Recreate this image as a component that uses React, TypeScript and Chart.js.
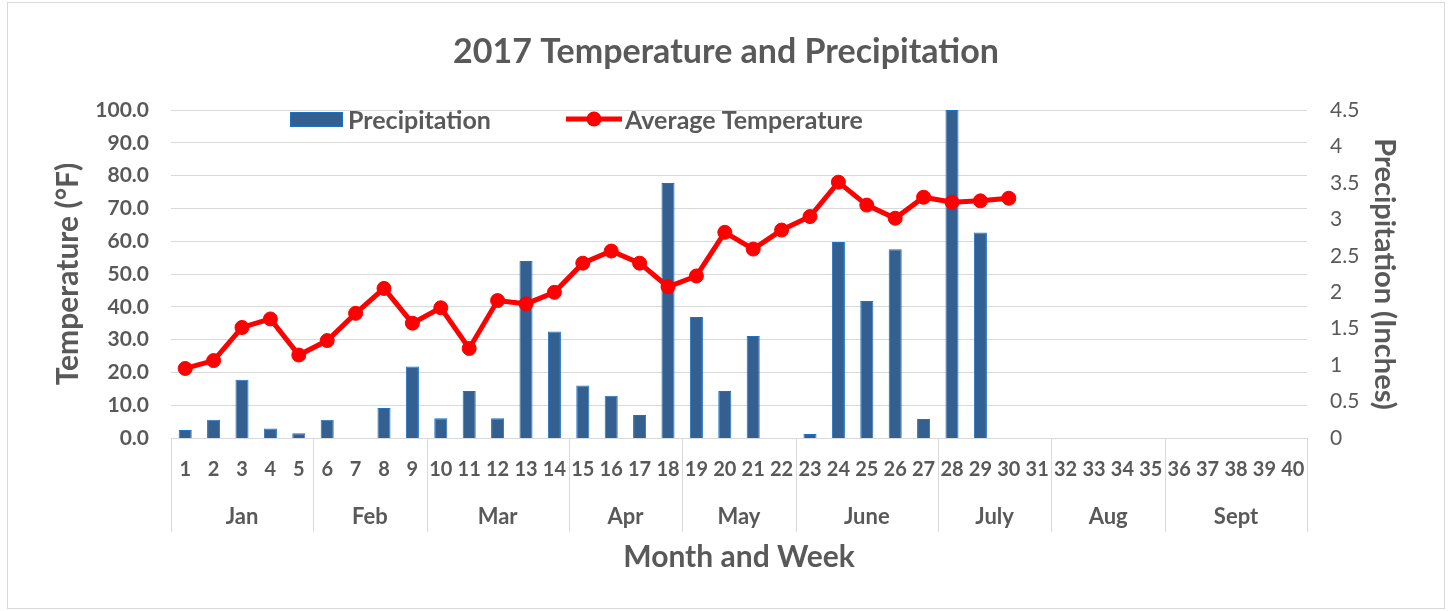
import React, { useEffect, useRef } from 'react';
import { Chart, registerables } from 'chart.js';

Chart.register(...registerables);

const weekLabels = [
  '1', '2', '3', '4', '5', '6', '7', '8', '9', '10',
  '11', '12', '13', '14', '15', '16', '17', '18', '19', '20',
  '21', '22', '23', '24', '25', '26', '27', '28', '29', '30',
  '31', '32', '33', '34', '35', '36', '37', '38', '39', '40',
];

const months = ['Jan', 'Feb', 'Mar', 'Apr', 'May', 'June', 'July', 'Aug', 'Sept'];
const monthWeekCounts = [5, 4, 5, 4, 4, 5, 4, 4, 5];

const precipitation = [
  0.11, 0.25, 0.8, 0.13, 0.065, 0.25, 0, 0.41, 0.98, 0.27,
  0.645, 0.27, 2.43, 1.46, 0.72, 0.58, 0.315, 3.5, 1.66, 0.645,
  1.4, 0, 0.055, 2.69, 1.88, 2.59, 0.26, 4.5, 2.82, null,
  null, null, null, null, null, null, null, null, null, null,
];

const avgTemperature = [
  21.2, 23.6, 33.7, 36.3, 25.3, 29.7, 38.0, 45.6, 35.0, 39.7,
  27.3, 41.9, 40.9, 44.4, 53.3, 57.0, 53.3, 46.1, 49.4, 62.7,
  57.6, 63.4, 67.5, 78.0, 71.0, 67.0, 73.4, 71.9, 72.3, 73.1,
  null, null, null, null, null, null, null, null, null, null,
];

const TEXT = '#595959';
const GRID = '#d9d9d9';
const BAR_FILL = '#335F91';
const BAR_EDGE = '#1C73C4';
const RED = '#FF0000';
const FONT = 'Lato';

const decorPlugin = {
  id: 'decor',
  beforeDraw(chart: any) {
    const { ctx, width, height } = chart;
    ctx.save();
    ctx.fillStyle = '#ffffff';
    ctx.fillRect(0, 0, width, height);
    ctx.strokeStyle = GRID;
    ctx.lineWidth = 1;
    ctx.strokeRect(7.5, 2.5, 1437, 606);
    ctx.restore();
  },
  afterDraw(chart: any) {
    const { ctx } = chart;
    const xs = chart.scales.x;
    const area = chart.chartArea;
    ctx.save();
    // title
    ctx.fillStyle = TEXT;
    ctx.font = `bold 34px ${FONT}`;
    ctx.textAlign = 'center';
    ctx.textBaseline = 'middle';
    ctx.fillText('2017 Temperature and Precipitation', 726, 52);

    // month separators and labels
    ctx.strokeStyle = GRID;
    ctx.lineWidth = 1;
    let start = 0;
    const bounds: number[] = [Math.round(xs.getPixelForValue(-0.5)) + 0.5];
    for (let i = 0; i < months.length; i++) {
      const end = start + monthWeekCounts[i];
      const x0 = xs.getPixelForValue(start - 0.5);
      const x1 = xs.getPixelForValue(end - 0.5);
      bounds.push(Math.round(x1) + 0.5);
      ctx.fillStyle = TEXT;
      ctx.font = `bold 22px ${FONT}`;
      ctx.textAlign = 'center';
      ctx.textBaseline = 'middle';
      ctx.fillText(months[i], (x0 + x1) / 2, 517);
      start = end;
    }
    ctx.beginPath();
    for (const bx of bounds) {
      ctx.moveTo(bx, area.bottom);
      ctx.lineTo(bx, 532);
    }
    ctx.stroke();

    // legend
    ctx.fillStyle = BAR_FILL;
    ctx.fillRect(290, 112, 53, 15);
    ctx.strokeStyle = BAR_EDGE;
    ctx.lineWidth = 1;
    ctx.strokeRect(290.5, 112.5, 52, 14);
    ctx.fillStyle = TEXT;
    ctx.font = `bold 25px ${FONT}`;
    ctx.textAlign = 'left';
    ctx.textBaseline = 'middle';
    ctx.fillText('Precipitation', 348, 121);

    ctx.strokeStyle = RED;
    ctx.lineWidth = 5;
    ctx.beginPath();
    ctx.moveTo(566, 119);
    ctx.lineTo(622, 119);
    ctx.stroke();
    ctx.fillStyle = RED;
    ctx.beginPath();
    ctx.arc(594, 119, 7.5, 0, Math.PI * 2);
    ctx.fill();
    ctx.fillStyle = TEXT;
    ctx.fillText('Average Temperature', 625, 121);
    ctx.restore();
  },
};

export default function App() {
  const ref = useRef<HTMLCanvasElement>(null);

  useEffect(() => {
    if (!ref.current) return;
    const chart = new Chart(ref.current, {
      type: 'bar',
      data: {
        labels: weekLabels,
        datasets: [
          {
            type: 'line',
            label: 'Average Temperature',
            data: avgTemperature,
            yAxisID: 'y',
            borderColor: RED,
            backgroundColor: RED,
            borderWidth: 5,
            pointRadius: 7,
            pointBackgroundColor: RED,
            pointBorderColor: RED,
            pointBorderWidth: 1,
            tension: 0,
            order: 0,
          } as any,
          {
            type: 'bar',
            label: 'Precipitation',
            data: precipitation,
            yAxisID: 'y1',
            backgroundColor: BAR_FILL,
            borderColor: BAR_EDGE,
            borderWidth: 1,
            barPercentage: 0.46,
            categoryPercentage: 1,
            order: 1,
          } as any,
        ],
      },
      options: {
        responsive: false,
        animation: false,
        layout: { padding: { top: 110, left: 0, right: 0, bottom: 0 } },
        plugins: {
          legend: { display: false },
          title: { display: false },
          tooltip: { enabled: false },
        },
        scales: {
          x: {
            type: 'category',
            offset: true,
            grid: { display: false, drawTicks: false },
            border: { display: true, color: GRID },
            ticks: {
              autoSkip: false,
              maxRotation: 0,
              minRotation: 0,
              padding: 20,
              color: TEXT,
              font: { family: FONT, size: 20, weight: 'bold' },
            },
            title: {
              display: true,
              text: 'Month and Week',
              color: TEXT,
              font: { family: FONT, size: 30, weight: 'bold' },
              padding: { top: 0, bottom: 36 },
            },
            afterFit: (s: any) => { s.height = 173; },
          },
          y: {
            position: 'left',
            min: 0,
            max: 100,
            ticks: {
              stepSize: 10,
              padding: 22,
              color: TEXT,
              font: { family: FONT, size: 21, weight: 'bold' },
              callback: (v: any) => Number(v).toFixed(1),
            },
            grid: { color: GRID, lineWidth: 1, drawTicks: false },
            border: { display: false },
            title: {
              display: true,
              text: 'Temperature (°F)',
              color: TEXT,
              font: { family: FONT, size: 30, weight: 'bold' },
              padding: { top: 50, bottom: 0 },
            },
            afterFit: (s: any) => { s.width = 171; },
          },
          y1: {
            position: 'right',
            min: 0,
            max: 4.5,
            ticks: {
              stepSize: 0.5,
              padding: 23,
              color: TEXT,
              font: { family: FONT, size: 21, weight: 'normal' },
              callback: (v: any) => String(Math.round(Number(v) * 10) / 10),
            },
            grid: { display: false, drawTicks: false },
            border: { display: false },
            title: {
              display: true,
              text: 'Precipitation (Inches)',
              color: TEXT,
              font: { family: FONT, size: 29, weight: 'bold' },
              padding: { top: 48, bottom: 0 },
            },
            afterFit: (s: any) => { s.width = 143; },
          },
        },
      } as any,
      plugins: [decorPlugin],
    });
    return () => chart.destroy();
  }, []);

  return (
    <div style={{ position: 'fixed', left: 0, top: 0, width: 1450, height: 611, background: '#fff' }}>
      <canvas ref={ref} width={1450} height={611} style={{ width: 1450, height: 611, display: 'block' }} />
    </div>
  );
}
